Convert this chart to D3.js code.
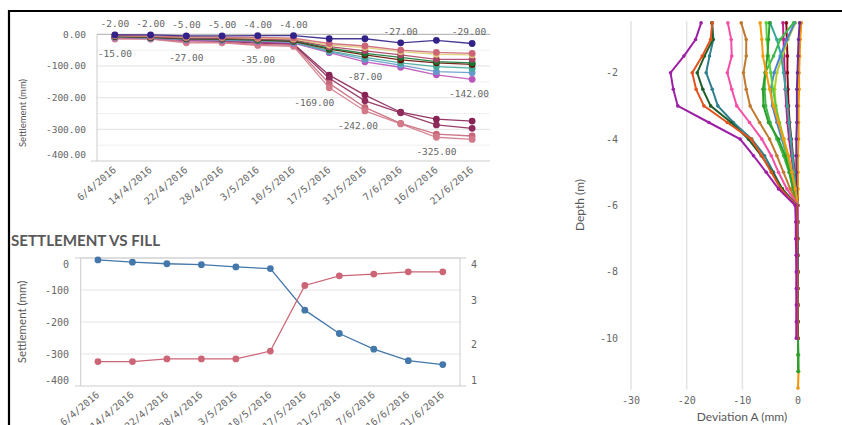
<!DOCTYPE html>
<html>
<head>
<meta charset="utf-8">
<script src="https://cdnjs.cloudflare.com/ajax/libs/d3/7.8.5/d3.min.js"></script>
<style>
    body { margin: 0; background: #fff; }
    svg { display: block; }
    .num { font-family: "DejaVu Sans Mono", monospace; fill: #666; }
    .lab { font-family: Lato, "Open Sans", sans-serif; fill: #595959; }
</style>
</head>
<body>
<svg id="chart" width="842" height="425"></svg>
<script>
// ---- Daten: Setzung je Messpunkt (mm) ----
var dates = ["6/4/2016", "14/4/2016", "22/4/2016", "28/4/2016", "3/5/2016", "10/5/2016",
             "17/5/2016", "31/5/2016", "7/6/2016", "16/6/2016", "21/6/2016"];

var sNavy = [-2, -2, -5, -5, -4, -4, -14, -14, -27, -19, -29];
var sUp1  = [-3, -5, -8, -9, -10, -12, -29, -37, -50, -57, -60];
var sUp2  = [-4, -6, -9, -10, -12, -14, -34, -42, -55, -63, -65];
var sUp3  = [-5, -8, -12, -13, -15, -18, -39, -52, -65, -79, -79];
var sUp4  = [-6, -9, -13, -14, -17, -20, -44, -60, -73, -86, -90];
var sUp5  = [-7, -10, -14, -15, -18, -22, -47, -65, -81, -90, -95];
var sUp6  = [-8, -11, -15, -17, -20, -24, -52, -73, -90, -102, -107];
var sUp7  = [-9, -12, -16, -18, -21, -26, -55, -79, -97, -118, -121];
var sUp8  = [-10, -13, -18, -20, -23, -28, -58, -87, -104, -128, -142];
var sLow1 = [-8, -10, -18, -20, -25, -30, -129, -192, -246, -268, -274];
var sLow2 = [-10, -12, -20, -22, -28, -32, -139, -210, -248, -286, -297];
var sLow3 = [-12, -14, -24, -25, -32, -35, -155, -231, -281, -315, -321];
var sLow4 = [-15, -15, -27, -27, -35, -38, -169, -242, -283, -325, -332];

var topTicks = [0, -100, -200, -300, -400];

// Wertebeschriftungen: Datum-Index, Wert, oben/unten
var labelDateIdx = [0, 1, 2, 3, 4, 5, 8, 10, 0, 2, 4, 6, 7, 7, 9, 10];
var labelValues  = [-2, -2, -5, -5, -4, -4, -27, -29, -15, -27, -35, -169, -87, -242, -325, -142];
var labelSide    = ["a", "a", "a", "a", "a", "a", "a", "a", "b", "b", "b", "b", "b", "b", "b", "b"];

// ---- Daten: Setzung vs. Schüttung ----
var settlement = [-6, -13, -18, -21, -28, -33, -163, -236, -285, -321, -333];
var fill       = [1.6, 1.6, 1.66, 1.66, 1.66, 1.84, 3.33, 3.55, 3.59, 3.64, 3.64];
var leftTicks  = [0, -100, -200, -300, -400];
var rightTicks = [1, 2, 3, 4];

// ---- Daten: Inklinometer (Abweichung A in mm je Tiefe) ----
var depths = [-0.5, -1, -1.5, -2, -2.5, -3, -3.5, -4, -4.5, -5, -5.5, -6,
              -6.5, -7, -7.5, -8, -8.5, -9, -9.5, -10, -10.5, -11, -11.5];
var dev1  = [-17.4, -18.4, -20.5, -22.9, -22.4, -21.6, -16.0, -10.4, -8.0, -5.7, -3.5, -0.5, -0.4, -0.4, -0.3, -0.3, -0.3, -0.3, -0.3, -0.3];
var dev2  = [-15.4, -15.7, -17.2, -19.0, -18.3, -16.9, -12.7, -8.4, -6.5, -4.8, -3.1, -0.3, -0.2, -0.2, -0.2, -0.1, -0.1, -0.1, -0.1, -0.1];
var dev3  = [-15.5, -15.3, -16.8, -18.1, -17.1, -15.7, -12.0, -8.9, -6.6, -4.6, -2.8, -0.2, -0.2, -0.1, -0.1, -0.1, -0.1, -0.1, 0, 0];
var dev4  = [-15.4, -15.2, -15.9, -16.5, -15.4, -14.4, -11.6, -8.3, -6.0, -4.4, -2.9, -0.2, -0.1, -0.1, -0.1, 0, 0, 0, 0, 0];
var dev5  = [-12.6, -12.0, -11.9, -12.7, -11.9, -11.0, -8.7, -6.5, -4.8, -3.5, -2.0, 0, 0, 0, 0, 0, 0, 0, 0, 0];
var dev6  = [-10.2, -9.3, -9.3, -9.8, -9.3, -8.6, -6.9, -5.1, -3.8, -2.6, -1.4, 0, 0, 0, 0, 0, 0, 0, 0, 0];
var dev7  = [-6.8, -6.5, -6.3, -5.7, -5.1, -4.4, -3.5, -2.6, -1.7, -1.1, -0.5, 0, 0, 0, 0, 0, 0, 0, 0, 0];
var dev8  = [-5.1, -5.3, -5.5, -5.9, -6.3, -6.2, -5.3, -3.5, -2.3, -1.5, -0.9, 0, 0, -0.1, -0.1, 0, 0, 0, 0, 0, 0, 0];
var dev9  = [-5.7, -5.6, -5.3, -4.9, -4.5, -4.0, -3.4, -2.7, -2.0, -1.4, -0.8, 0, 0, 0, 0, 0, 0, 0, 0, 0];
var dev10 = [-0.8, -3.2, -4.4, -5.9, -6.0, -5.8, -5.0, -3.8, -2.6, -1.6, -0.9, 0, 0, 0, 0, 0, 0, 0, 0, 0, 0.1, 0.1];
var dev11 = [-0.6, -2.0, -3.2, -4.3, -4.9, -4.6, -3.8, -2.9, -2.0, -1.3, -0.7, 0, 0, 0, 0, 0, 0, 0, 0, 0];
var dev12 = [-0.5, -1.8, -2.8, -3.8, -4.2, -4.0, -3.3, -2.5, -1.8, -1.1, -0.6, 0, 0, 0, 0, 0, 0, 0, 0, 0];
var dev13 = [-2.7, -2.6, -2.5, -2.4, -2.3, -2.1, -1.9, -1.6, -1.2, -0.8, -0.4, 0, -0.1, -0.1, -0.1, -0.2, -0.2, -0.2, -0.2, -0.2];
var dev14 = [-2.1, -2.0, -1.9, -1.9, -1.8, -1.7, -1.5, -1.2, -0.9, -0.6, -0.3, 0, 0, 0, 0, 0, 0, 0, 0, 0];
var dev15 = [0.3, 0.1, 0, -0.1, -0.2, -0.2, -0.2, -0.3, -0.3, -0.3, -0.3, -0.2, -0.2, -0.2, -0.3, -0.2, -0.2, -0.2, -0.2, -0.2];
var dev16 = [0.6, 0.4, 0.3, 0.2, 0.2, 0.1, 0.1, 0.1, 0, 0, 0, 0, 0, 0, 0, 0, 0, 0, 0, 0, 0, 0.1, 0];
var dev17 = [-5.0, -3.8, -3.0, -2.6, -2.2, -1.9, -1.6, -1.3, -1.0, -0.7, -0.4, 0, 0, 0, 0, 0, 0, 0, 0, 0];

var devTicksX = [-30, -20, -10, 0];
var devTicksY = [-2, -4, -6, -8, -10];

// ---- Farben / Layout ----
var topSeries = [
    {v: sLow1, c: "#882255"}, {v: sLow2, c: "#8f2a5c"}, {v: sLow3, c: "#c8677a"}, {v: sLow4, c: "#d27a8a"},
    {v: sUp8, c: "#bb55bb"}, {v: sUp7, c: "#6699cc"}, {v: sUp6, c: "#44aa99"}, {v: sUp5, c: "#661100"},
    {v: sUp4, c: "#117733"}, {v: sUp3, c: "#aa4466"}, {v: sUp2, c: "#ddcc77"}, {v: sUp1, c: "#cc6677"},
    {v: sNavy, c: "#332288"}
];
var labelDx = {"-169": -15, "-242": -7};

var devSeries = [
    {v: dev16, c: "#f29400"}, {v: dev15, c: "#6e2a96"}, {v: dev14, c: "#8c0c1c"}, {v: dev13, c: "#c0208a"},
    {v: dev12, c: "#b4cc30"}, {v: dev11, c: "#4d7fd6"}, {v: dev17, c: "#35a79c"}, {v: dev10, c: "#3fb84a"},
    {v: dev9, c: "#55d03c"}, {v: dev8, c: "#2e9e2e"}, {v: dev7, c: "#f39a10"}, {v: dev6, c: "#c07a30"},
    {v: dev5, c: "#f64ea5"}, {v: dev4, c: "#2f7f8e"}, {v: dev3, c: "#1f5f2a"}, {v: dev2, c: "#e2531e"},
    {v: dev1, c: "#9c1fa6"}
];

var svg = d3.select("#chart");

// Rahmen
svg.append("line").attr("x1", 8).attr("x2", 842).attr("y1", 11).attr("y2", 11)
    .attr("stroke", "#000").attr("stroke-width", 2.2);
svg.append("line").attr("x1", 9).attr("x2", 9).attr("y1", 10).attr("y2", 425)
    .attr("stroke", "#000").attr("stroke-width", 2.2);

// ================= Oberes Diagramm =================
var x1 = d3.scalePoint().domain(dates).range([97, 490]).padding(0.5);
var y1 = d3.scaleLinear().domain([-400, 0]).range([161, 34.3]);

var g1 = svg.append("g");
d3.range(-350, 0, 50).forEach(function(v) {
    g1.append("line").attr("x1", 97).attr("x2", 490).attr("y1", y1(v)).attr("y2", y1(v))
        .attr("stroke", v % 100 === 0 ? "#e2e2e2" : "#f0f0f0").attr("stroke-width", 1);
});
g1.append("line").attr("x1", 97).attr("x2", 490).attr("y1", y1(0)).attr("y2", y1(0)).attr("stroke", "#aaa");
g1.append("line").attr("x1", 97).attr("x2", 490).attr("y1", y1(-400)).attr("y2", y1(-400)).attr("stroke", "#ccc");
g1.append("line").attr("x1", 97).attr("x2", 97).attr("y1", y1(0)).attr("y2", y1(-400)).attr("stroke", "#ccc");
g1.append("line").attr("x1", 91).attr("x2", 97).attr("y1", y1(-400)).attr("y2", y1(-400)).attr("stroke", "#ccc");

g1.selectAll(".yt").data(topTicks).enter().append("text")
    .attr("class", "num")
    .attr("x", 86)
    .attr("y", d => Math.min(y1(d), y1(-400) - 6))
    .attr("dy", "0.35em")
    .style("text-anchor", "end")
    .style("font-size", "9.5px")
    .text(d => d.toFixed(2));

g1.selectAll(".xt").data(dates).enter().append("text")
    .attr("class", "num")
    .style("font-size", "9.8px")
    .style("text-anchor", "end")
    .attr("transform", d => "translate(" + (x1(d) + 2) + "," + (y1(-400) + 10) + ") rotate(-40)")
    .text(d => d);

g1.append("text").attr("class", "lab")
    .attr("transform", "translate(26,113) rotate(-90)")
    .style("text-anchor", "middle").style("font-size", "9.5px")
    .text("Settlement (mm)");

var line1 = d3.line().x((d, i) => x1(dates[i])).y(d => y1(d));
topSeries.forEach(function(s) {
    var gs = g1.append("g");
    gs.append("path").datum(s.v).attr("d", line1)
        .attr("fill", "none").attr("stroke", s.c).attr("stroke-width", 1.3).attr("opacity", 0.9);
    gs.selectAll("circle").data(s.v).enter().append("circle")
        .attr("cx", (d, i) => x1(dates[i])).attr("cy", d => y1(d)).attr("r", 3.4)
        .attr("fill", s.c);
});

labelValues.forEach(function(v, k) {
    var x = x1(dates[labelDateIdx[k]]) + (labelDx[v] || 0);
    x = Math.min(x, 469);
    g1.append("text").attr("class", "num")
        .attr("x", x)
        .attr("y", labelSide[k] === "a" ? y1(v) - 8 : y1(v) + 18)
        .style("text-anchor", "middle").style("font-size", "9.5px")
        .text(v.toFixed(2));
});

// ================= Setzung vs. Schüttung =================
var x2 = d3.scalePoint().domain(dates).range([80.7, 460]).padding(0.5);
var yL = d3.scaleLinear().domain([-400, 0]).range([386, 258]);
var yR = d3.scaleLinear().domain([1, 4]).range([388, 256]);

var g2 = svg.append("g");
g2.append("text").attr("class", "lab")
    .attr("x", 11).attr("y", 246)
    .attr("textLength", 149).attr("lengthAdjust", "spacingAndGlyphs")
    .style("font-size", "16px").style("font-weight", "bold")
    .text("SETTLEMENT VS FILL");

[-100, -200, -300].forEach(function(v) {
    g2.append("line").attr("x1", 80.7).attr("x2", 460).attr("y1", yL(v)).attr("y2", yL(v))
        .attr("stroke", "#e4e4e4");
});
g2.append("line").attr("x1", 80.7).attr("x2", 460).attr("y1", yL(0)).attr("y2", yL(0)).attr("stroke", "#bbb");
g2.append("line").attr("x1", 80.7).attr("x2", 460).attr("y1", yL(-400)).attr("y2", yL(-400)).attr("stroke", "#ccc");
g2.append("line").attr("x1", 80.7).attr("x2", 80.7).attr("y1", yL(0)).attr("y2", yL(-400)).attr("stroke", "#ccc");
g2.append("line").attr("x1", 460).attr("x2", 460).attr("y1", yL(0)).attr("y2", yL(-400)).attr("stroke", "#ccc");
[yL(0), yL(-400)].forEach(function(y) {
    g2.append("line").attr("x1", 75).attr("x2", 80.7).attr("y1", y).attr("y2", y).attr("stroke", "#ccc");
    g2.append("line").attr("x1", 460).attr("x2", 466).attr("y1", y).attr("y2", y).attr("stroke", "#ccc");
});

g2.selectAll(".yl").data(leftTicks).enter().append("text")
    .attr("class", "num")
    .attr("x", 69)
    .attr("y", d => Math.max(yL(0) + 6, Math.min(yL(d), yL(-400) - 6)))
    .attr("dy", "0.35em")
    .style("text-anchor", "end").style("font-size", "10px")
    .text(d => d);

g2.selectAll(".yr").data(rightTicks).enter().append("text")
    .attr("class", "num")
    .attr("x", 471)
    .attr("y", d => Math.max(yL(0) + 6, Math.min(yR(d), yL(-400) - 6)))
    .attr("dy", "0.35em")
    .style("text-anchor", "start").style("font-size", "10px")
    .text(d => d);

g2.selectAll(".xt").data(dates).enter().append("text")
    .attr("class", "num")
    .style("font-size", "9.8px")
    .style("text-anchor", "end")
    .attr("transform", d => "translate(" + (x2(d) + 2) + "," + (yL(-400) + 10) + ") rotate(-40)")
    .text(d => d);

g2.append("text").attr("class", "lab")
    .attr("transform", "translate(26,322) rotate(-90)")
    .style("text-anchor", "middle").style("font-size", "11.5px")
    .text("Settlement (mm)");

var lineS = d3.line().x((d, i) => x2(dates[i])).y(d => yL(d));
var lineF = d3.line().x((d, i) => x2(dates[i])).y(d => yR(d));
[{v: settlement, c: "#4477aa", l: lineS, y: yL}, {v: fill, c: "#cc6677", l: lineF, y: yR}].forEach(function(s) {
    g2.append("path").datum(s.v).attr("d", s.l)
        .attr("fill", "none").attr("stroke", s.c).attr("stroke-width", 1.3);
    g2.append("g").selectAll("circle").data(s.v).enter().append("circle")
        .attr("cx", (d, i) => x2(dates[i])).attr("cy", d => s.y(d)).attr("r", 3.4)
        .attr("fill", s.c);
});

// ================= Inklinometer =================
var xD = d3.scaleLinear().domain([-30, 0]).range([631, 798]);
var yD = d3.scaleLinear().domain([-2, -10]).range([72.7, 338.3]);

var g3 = svg.append("g");
devTicksX.forEach(function(v) {
    if (v === 0) return;
    g3.append("line").attr("x1", xD(v)).attr("x2", xD(v)).attr("y1", yD(-0.45)).attr("y2", yD(-11.55))
        .attr("stroke", "#e3e3e3").attr("stroke-width", 1.5);
});
g3.selectAll(".xt").data(devTicksX).enter().append("text")
    .attr("class", "num")
    .attr("x", d => xD(d)).attr("y", 400).attr("dy", "0.35em")
    .style("text-anchor", "middle").style("font-size", "10px")
    .text(d => d);
g3.selectAll(".yt").data(devTicksY).enter().append("text")
    .attr("class", "num")
    .attr("x", 618).attr("y", d => yD(d)).attr("dy", "0.35em")
    .style("text-anchor", "end").style("font-size", "10px")
    .text(d => d);
g3.append("text").attr("class", "lab")
    .attr("x", 742).attr("y", 421)
    .style("text-anchor", "middle").style("font-size", "12px")
    .text("Deviation A (mm)");
g3.append("text").attr("class", "lab")
    .attr("transform", "translate(584,205) rotate(-90)")
    .style("text-anchor", "middle").style("font-size", "12px")
    .text("Depth (m)");

var lineD = d3.line().x(d => xD(d)).y((d, i) => yD(depths[i]));
devSeries.forEach(function(s) {
    var gs = g3.append("g");
    gs.append("path").datum(s.v).attr("d", lineD)
        .attr("fill", "none").attr("stroke", s.c).attr("stroke-width", 2);
    gs.selectAll("circle").data(s.v).enter().append("circle")
        .attr("cx", d => xD(d)).attr("cy", (d, i) => yD(depths[i])).attr("r", 1.8)
        .attr("fill", s.c);
});
</script>
</body>
</html>
